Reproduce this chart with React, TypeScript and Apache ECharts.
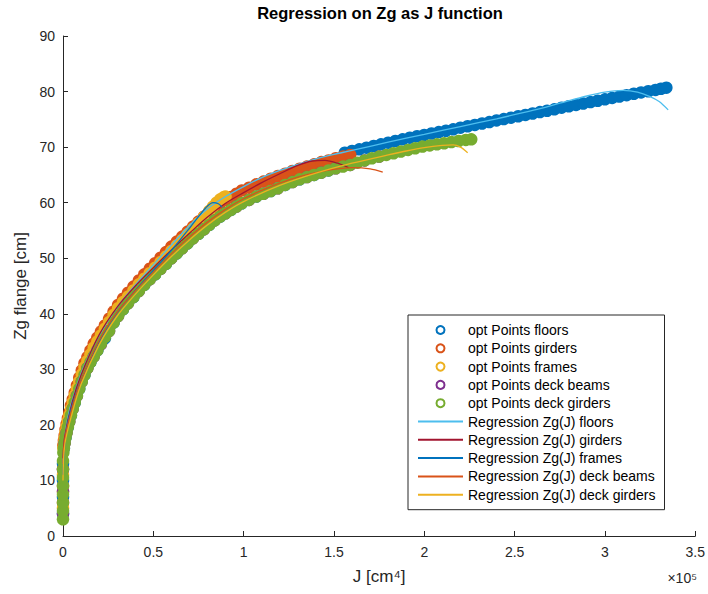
import React, { useEffect, useRef } from "react";
import * as echarts from "echarts";

const FONT = "'Liberation Sans', Arial, Helvetica, sans-serif";
const AX = "#262626";

const titleText = "Regression on Zg as J function";
const xName = "J [cm⁴]";
const yName = "Zg flange [cm]";
const xExponent = "×10⁵";

// J in units of 1e5 cm^4, Zg in cm
const floorsPts: number[][] = [
  [0, 4], [0, 7], [0, 10], [0, 13], [0.005, 15.8], [0.014, 17.7], [0.027, 19.6], [0.044, 21.7],
  [0.065, 24.0], [0.09, 26.5], [0.119, 29.0], [0.152, 31.3], [0.19, 33.4], [0.232, 35.6], [0.28, 38.4],
  [0.332, 40.8], [0.39, 43.0], [0.45, 45.2], [0.51, 47.1], [0.57, 49.0], [0.63, 50.9], [0.69, 52.7],
  [0.75, 54.4], [0.81, 56.0], [0.87, 57.5], [0.93, 58.7], [0.99, 59.9], [1.07, 61.1], [1.15, 62.1],
  [1.23, 63.2], [1.31, 64.2], [1.39, 65.0], [1.47, 65.8],
  [1.56, 69.0], [1.60, 69.3], [1.64, 69.6], [1.68, 69.9], [1.72, 70.2], [1.76, 70.5], [1.80, 70.8],
  [1.84, 71.1], [1.88, 71.4], [1.92, 71.7], [1.96, 71.95], [2.00, 72.2], [2.04, 72.45], [2.08, 72.7],
  [2.12, 72.95], [2.16, 73.2], [2.20, 73.5], [2.24, 73.75], [2.28, 74.0], [2.32, 74.25], [2.36, 74.5],
  [2.40, 74.8], [2.44, 75.05], [2.48, 75.3], [2.52, 75.55], [2.56, 75.8], [2.60, 76.05], [2.64, 76.3],
  [2.68, 76.55], [2.72, 76.8], [2.76, 77.1], [2.80, 77.35], [2.84, 77.6], [2.88, 77.85], [2.92, 78.1],
  [2.96, 78.35], [3.00, 78.6], [3.04, 78.85], [3.08, 79.1], [3.12, 79.35], [3.16, 79.6], [3.20, 79.85],
  [3.24, 80.05], [3.28, 80.3], [3.31, 80.5], [3.34, 80.7],
];

const girdersPts: number[][] = [
  [0, 6], [0, 9], [0, 12], [0.002, 16.3], [0.005, 17.2], [0.009, 18.1], [0.014, 19.2], [0.02, 20.2],
  [0.027, 21.2], [0.035, 22.2], [0.044, 23.5], [0.054, 24.6], [0.065, 25.8], [0.077, 27.1], [0.09, 28.5],
  [0.104, 29.8], [0.119, 31.1], [0.135, 32.2], [0.152, 33.4], [0.17, 34.6], [0.19, 35.7], [0.21, 36.8],
  [0.232, 37.9], [0.255, 39.1], [0.28, 40.4], [0.305, 41.6], [0.332, 42.7], [0.36, 43.8], [0.39, 44.9],
  [0.42, 46.0], [0.45, 47.1], [0.48, 48.1], [0.51, 49.1], [0.54, 50.1], [0.57, 51.1], [0.60, 52.1],
  [0.63, 53.0], [0.66, 53.9], [0.69, 54.8], [0.72, 55.7], [0.75, 56.6], [0.78, 57.5], [0.81, 58.4],
  [0.84, 59.2], [0.87, 59.9], [0.90, 60.5], [0.93, 61.0], [0.96, 61.6], [0.99, 62.2], [1.03, 62.7],
  [1.07, 63.3], [1.11, 63.8], [1.15, 64.3], [1.19, 64.8], [1.23, 65.2], [1.27, 65.7], [1.31, 66.1],
  [1.35, 66.5], [1.39, 66.9], [1.43, 67.3], [1.47, 67.6], [1.51, 68.0], [1.55, 68.3], [1.59, 68.6],
];

const framesPts: number[][] = [
  [0, 5], [0, 8], [0, 11], [0.002, 15.8], [0.005, 16.7], [0.009, 17.6], [0.014, 18.7], [0.02, 19.7],
  [0.027, 20.7], [0.035, 21.7], [0.044, 22.9], [0.054, 24.1], [0.065, 25.3], [0.077, 26.5], [0.09, 27.8],
  [0.104, 29.1], [0.119, 30.4], [0.135, 31.5], [0.152, 32.7], [0.17, 33.9], [0.19, 35.0], [0.21, 36.1],
  [0.232, 37.3], [0.255, 38.5], [0.28, 39.8], [0.305, 41.0], [0.332, 42.1], [0.36, 43.1], [0.39, 44.2],
  [0.42, 45.3], [0.45, 46.3], [0.48, 47.3], [0.51, 48.3], [0.54, 49.3], [0.57, 50.3], [0.60, 51.3],
  [0.63, 52.3], [0.66, 53.3], [0.69, 54.3], [0.72, 55.3], [0.75, 56.3], [0.78, 57.4], [0.81, 58.5],
  [0.83, 59.3], [0.85, 60.0], [0.87, 60.6], [0.89, 61.0], [0.90, 61.1],
];

const deckBeamsPts: number[][] = [
  [0, 4], [0, 8], [0, 12], [0.009, 16.7], [0.02, 18.6], [0.035, 20.6], [0.054, 22.9], [0.077, 25.2],
  [0.104, 27.8], [0.135, 30.2], [0.17, 32.3], [0.21, 34.5], [0.255, 36.9], [0.305, 39.6], [0.36, 41.9],
  [0.42, 44.1], [0.48, 46.2], [0.54, 48.1], [0.60, 50.0], [0.66, 51.8], [0.72, 53.6], [0.78, 55.2],
  [0.84, 56.8], [0.90, 58.1], [0.96, 59.3], [1.03, 60.5], [1.11, 61.6], [1.19, 62.6], [1.27, 63.7],
  [1.35, 64.6], [1.43, 65.4], [1.51, 66.2], [1.59, 66.8], [1.67, 67.6], [1.75, 68.3],
];

const deckGirdersPts: number[][] = [
  [0, 3], [0, 4.5], [0, 6], [0, 7.5], [0, 9], [0, 10.5], [0, 12], [0, 13.5], [0.002, 15.0],
  [0.005, 15.8], [0.009, 16.7], [0.014, 17.7], [0.02, 18.6], [0.027, 19.6], [0.035, 20.6], [0.044, 21.7],
  [0.054, 22.9], [0.065, 24.0], [0.077, 25.2], [0.09, 26.5], [0.104, 27.8], [0.119, 29.0], [0.135, 30.2],
  [0.152, 31.3], [0.17, 32.3], [0.19, 33.4], [0.21, 34.6], [0.232, 35.8], [0.255, 36.9], [0.28, 38.4],
  [0.305, 39.6], [0.332, 40.8], [0.36, 41.9], [0.39, 43.0], [0.42, 44.1], [0.45, 45.2], [0.48, 46.2],
  [0.51, 47.1], [0.54, 48.1], [0.57, 49.0], [0.60, 50.0], [0.63, 50.9], [0.66, 51.8], [0.69, 52.7],
  [0.72, 53.6], [0.75, 54.4], [0.78, 55.2], [0.81, 56.0], [0.84, 56.8], [0.87, 57.5], [0.90, 58.1],
  [0.93, 58.7], [0.96, 59.3], [0.99, 59.9], [1.03, 60.5], [1.07, 61.1], [1.11, 61.6], [1.15, 62.1],
  [1.19, 62.6], [1.23, 63.2], [1.27, 63.7], [1.31, 64.2], [1.35, 64.6], [1.39, 65.0], [1.43, 65.4],
  [1.47, 65.8], [1.51, 66.2], [1.55, 66.5], [1.59, 66.8], [1.63, 67.2], [1.67, 67.6], [1.71, 68.0],
  [1.75, 68.3], [1.79, 68.6], [1.83, 68.9], [1.87, 69.2], [1.91, 69.5], [1.95, 69.8], [1.99, 70.1],
  [2.03, 70.3], [2.07, 70.5], [2.11, 70.7], [2.15, 70.9], [2.19, 71.1], [2.23, 71.3], [2.26, 71.4],
];

const floorsFit: number[][] = [
  [0, 13], [0.005, 16], [0.015, 19], [0.03, 21.8], [0.05, 24.3], [0.1, 29.2], [0.15, 32.9], [0.2, 36.1],
  [0.3, 41.2], [0.4, 45.2], [0.5, 48.8], [0.6, 52.4], [0.7, 55.9], [0.8, 58.9], [0.9, 61.1], [1.0, 62.9],
  [1.1, 64.5], [1.2, 65.8], [1.3, 66.9], [1.4, 67.9], [1.5, 68.7], [1.6, 69.4], [1.8, 70.9], [2.0, 72.3],
  [2.2, 73.7], [2.4, 75.1], [2.6, 76.6], [2.75, 77.9], [2.9, 79.2], [3.0, 79.9], [3.1, 80.2], [3.18, 79.9],
  [3.25, 79.1], [3.3, 78.2], [3.35, 76.7],
];
const girdersFit: number[][] = [
  [0, 14], [0.01, 18], [0.05, 24], [0.1, 29], [0.2, 36.2], [0.3, 41.2], [0.4, 45], [0.5, 48.3], [0.6, 51.5],
  [0.7, 54.5], [0.8, 57.4], [0.9, 59.9], [1.0, 61.8], [1.1, 63.6], [1.2, 65.2], [1.3, 66.7], [1.38, 67.5],
  [1.45, 67.6], [1.52, 67.1], [1.58, 66.3],
];
const framesFit: number[][] = [
  [0, 11], [0.005, 14.5], [0.015, 18], [0.03, 21], [0.06, 24.5], [0.1, 28], [0.2, 35], [0.3, 40.2],
  [0.4, 44.2], [0.5, 47.8], [0.6, 51.4], [0.7, 55.4], [0.76, 57.9], [0.8, 59.4], [0.83, 60], [0.86, 59.8],
  [0.88, 59.2],
];
const deckBeamsFit: number[][] = [
  [0, 13], [0.01, 17.5], [0.05, 23], [0.1, 28], [0.2, 35.2], [0.3, 40.3], [0.4, 44.1], [0.5, 47.5], [0.6, 50.8],
  [0.7, 53.8], [0.8, 56.5], [0.9, 58.8], [1.0, 60.7], [1.1, 62.2], [1.2, 63.5], [1.3, 64.6], [1.4, 65.4],
  [1.5, 66.0], [1.6, 66.3], [1.7, 66.1], [1.77, 65.5],
];
const deckGirdersFit: number[][] = [
  [0, 10], [0.01, 16.5], [0.05, 22], [0.1, 27.3], [0.2, 34.4], [0.3, 39.6], [0.4, 43.5], [0.5, 47],
  [0.6, 50.3], [0.7, 53.3], [0.8, 56], [0.9, 58.3], [1.0, 60.2], [1.2, 63.1], [1.4, 65.3], [1.6, 67.1],
  [1.8, 68.6], [1.9, 69.3], [2.0, 69.9], [2.1, 70.3], [2.16, 70.4], [2.2, 70.0], [2.24, 69.0],
];

const pointNames = [
  "opt Points floors",
  "opt Points girders",
  "opt Points frames",
  "opt Points deck beams",
  "opt Points deck girders",
];
const fitNames = [
  "Regression Zg(J) floors",
  "Regression Zg(J) girders",
  "Regression Zg(J) frames",
  "Regression Zg(J) deck beams",
  "Regression Zg(J) deck girders",
];
const pointColors = ["#0072BD", "#D95319", "#EDB120", "#7E2F8E", "#77AC30"];
const fitColors = ["#4DBEEE", "#A2142F", "#0072BD", "#D95319", "#EDB120"];
const pointData = [floorsPts, girdersPts, framesPts, deckBeamsPts, deckGirdersPts];
const fitData = [floorsFit, girdersFit, framesFit, deckBeamsFit, deckGirdersFit];

export default function App() {
  const ref = useRef<HTMLDivElement>(null);
  useEffect(() => {
    if (!ref.current) return;
    const chart = echarts.init(ref.current, undefined, { renderer: "svg" });
    const series: any[] = [];
    pointNames.forEach((n, i) => {
      series.push({
        name: n,
        type: "scatter",
        data: pointData[i],
        symbol: "circle",
        symbolSize: 12.5,
        itemStyle: { color: pointColors[i], opacity: 1 },
        z: 2,
      });
    });
    fitNames.forEach((n, i) => {
      series.push({
        name: n,
        type: "line",
        data: fitData[i],
        symbol: "none",
        showSymbol: false,
        smooth: 0.3,
        lineStyle: { color: fitColors[i], width: 1.3 },
        itemStyle: { color: fitColors[i] },
        z: 3,
      });
    });
    chart.setOption({
      animation: false,
      backgroundColor: "#ffffff",
      textStyle: { fontFamily: FONT },
      grid: { left: 63, top: 36, width: 634, height: 500, containLabel: false },
      xAxis: {
        type: "value",
        min: 0,
        max: 3.5,
        interval: 0.5,
        name: xName,
        nameLocation: "middle",
        nameGap: 32,
        nameTextStyle: { fontSize: 17, color: AX, fontFamily: FONT },
        axisLine: { show: true, onZero: false, lineStyle: { color: AX, width: 1 } },
        axisTick: { show: true, inside: true, length: 5, lineStyle: { color: AX } },
        axisLabel: { color: AX, fontSize: 14, margin: 9, fontFamily: FONT },
        splitLine: { show: false },
      },
      yAxis: {
        type: "value",
        min: 0,
        max: 90,
        interval: 10,
        name: yName,
        nameLocation: "middle",
        nameGap: 32,
        nameRotate: 90,
        nameTextStyle: { fontSize: 17, color: AX, fontFamily: FONT },
        axisLine: { show: true, onZero: false, lineStyle: { color: AX, width: 1 } },
        axisTick: { show: true, inside: true, length: 5, lineStyle: { color: AX } },
        axisLabel: { color: AX, fontSize: 14, margin: 8, fontFamily: FONT },
        splitLine: { show: false },
      },
      legend: {
        orient: "vertical",
        left: 408,
        top: 315,
        padding: [7, 9, 7, 9],
        itemGap: 2.3,
        itemWidth: 45,
        itemHeight: 8,
        backgroundColor: "#ffffff",
        borderColor: AX,
        borderWidth: 1,
        borderRadius: 0,
        textStyle: { fontSize: 14, color: "#000000", lineHeight: 16, fontFamily: FONT },
        data: [
          ...pointNames.map((n) => ({ name: n, icon: "emptyCircle" })),
          ...fitNames.map((n) => ({ name: n, itemStyle: { opacity: 0 } })),
        ],
      },
      graphic: [
        {
          type: "text",
          x: 380,
          y: 13,
          style: {
            text: titleText,
            fontSize: 16.5,
            fontWeight: "bold",
            fontFamily: FONT,
            fill: "#000000",
            textAlign: "center",
            textVerticalAlign: "middle",
          },
        },
        {
          type: "text",
          x: 697,
          y: 578,
          style: {
            text: xExponent,
            fontSize: 14,
            fontFamily: FONT,
            fill: AX,
            textAlign: "right",
            textVerticalAlign: "middle",
          },
        },
      ],
      series,
    });
    return () => chart.dispose();
  }, []);
  return (
    <div
      ref={ref}
      style={{ position: "fixed", left: 0, top: 0, width: 708, height: 594, background: "#fff" }}
    />
  );
}
